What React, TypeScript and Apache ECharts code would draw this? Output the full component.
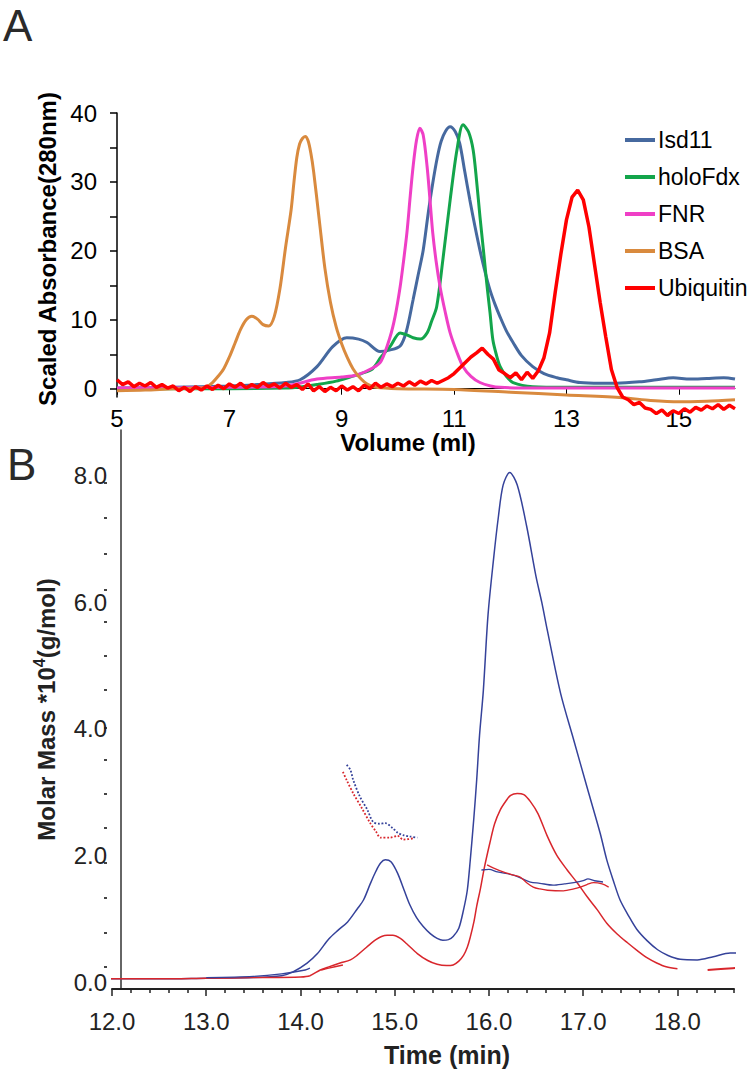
import React, { useEffect, useRef } from "react";
import * as echarts from "echarts";

// ---------- Panel A data (Volume ml -> Scaled Absorbance 280nm) ----------
const isdVol = [5, 6, 7, 7.5, 8, 8.26, 8.56, 8.84, 9.09, 9.3, 9.45, 9.68, 9.85, 10.04, 10.15, 10.27, 10.36, 10.45, 10.54, 10.62, 10.7, 10.77, 10.85, 10.93, 11.02, 11.1, 11.19, 11.28, 11.37, 11.46, 11.55, 11.64, 11.73, 11.82, 11.93, 12.05, 12.2, 12.4, 12.6, 12.83, 13.0, 13.24, 13.6, 13.9, 14.3, 14.6, 14.9, 15.2, 15.5, 15.8, 16.0];
const isdAbs = [0.1, 0.2, 0.4, 0.6, 0.9, 1.3, 3.2, 6.1, 7.4, 7.2, 6.7, 5.4, 5.6, 6.2, 8.3, 12.9, 16.5, 20.1, 25.5, 29.8, 33.5, 35.9, 37.4, 38.0, 37.3, 35.6, 31.5, 27.4, 23.6, 20.1, 17.0, 14.3, 12.2, 10.4, 8.4, 6.7, 4.8, 3.2, 2.2, 1.6, 1.3, 0.9, 0.8, 0.8, 1.0, 1.3, 1.6, 1.4, 1.5, 1.6, 1.4];

const fdxVol = [5, 7, 8, 8.3, 8.56, 8.9, 9.15, 9.35, 9.55, 9.7, 9.86, 10.04, 10.16, 10.27, 10.4, 10.52, 10.6, 10.69, 10.8, 10.93, 11.05, 11.16, 11.26, 11.34, 11.4, 11.46, 11.52, 11.58, 11.64, 11.69, 11.75, 11.82, 11.93, 12.05, 12.4, 13, 14, 15, 16];
const fdxAbs = [0.0, 0.0, 0.1, 0.3, 0.6, 1.1, 1.7, 2.2, 2.9, 4.6, 6.1, 8.1, 7.8, 7.4, 7.2, 8.1, 9.8, 11.9, 18.7, 27.4, 34.6, 38.3, 37.2, 34.6, 30.2, 25.0, 20.3, 15.4, 11.0, 7.1, 5.0, 3.2, 1.8, 0.9, 0.3, 0.2, 0.2, 0.2, 0.2];

const fnrVol = [5, 7, 8, 8.56, 9.0, 9.27, 9.55, 9.7, 9.86, 9.95, 10.04, 10.1, 10.16, 10.22, 10.27, 10.33, 10.39, 10.45, 10.52, 10.57, 10.62, 10.68, 10.75, 10.84, 10.93, 11.05, 11.16, 11.3, 11.46, 11.65, 11.82, 12.5, 13, 14, 15, 16];
const fnrAbs = [0.1, 0.2, 0.4, 1.4, 1.7, 2.0, 3.0, 4.0, 7.5, 10.5, 14.8, 18.5, 22.6, 28.0, 32.2, 36.0, 37.8, 36.8, 32.2, 27.5, 22.6, 18.5, 14.8, 11.2, 8.1, 5.3, 3.2, 1.8, 0.9, 0.4, 0.2, 0.1, 0.1, 0.1, 0.1, 0.1];

const bsaVol = [5, 5.5, 6, 6.3, 6.5, 6.6, 6.7, 6.8, 6.9, 7.0, 7.1, 7.2, 7.3, 7.4, 7.5, 7.6, 7.7, 7.8, 7.9, 8.0, 8.1, 8.15, 8.2, 8.25, 8.3, 8.35, 8.4, 8.45, 8.5, 8.6, 8.7, 8.8, 8.9, 9.0, 9.1, 9.2, 9.3, 9.4, 9.5, 9.6, 10, 11, 12, 13, 14, 14.5, 15, 15.5, 16];
const bsaAbs = [-0.3, -0.2, 0.0, 0.05, 0.1, 0.3, 0.9, 1.8, 2.9, 4.6, 6.6, 8.6, 10.0, 10.5, 10.1, 9.3, 9.1, 10.5, 14.5, 20.5, 26.0, 30.0, 33.5, 35.5, 36.3, 36.6, 36.0, 34.2, 31.5, 24.5, 17.5, 12.5, 9.0, 6.5, 4.5, 2.9, 1.8, 1.0, 0.5, 0.2, 0.0, -0.1, -0.5, -0.9, -1.3, -1.7, -1.9, -1.8, -1.6];

const ubqVol = [5.0, 5.1, 5.2, 5.3, 5.4, 5.5, 5.6, 5.7, 5.8, 5.9, 6.0, 6.1, 6.2, 6.3, 6.4, 6.5, 6.6, 6.7, 6.8, 6.9, 7.0, 7.1, 7.2, 7.3, 7.4, 7.5, 7.6, 7.7, 7.8, 7.9, 8.0, 8.1, 8.2, 8.3, 8.4, 8.5, 8.6, 8.7, 8.8, 8.9, 9.0, 9.1, 9.2, 9.3, 9.4, 9.5, 9.6, 9.7, 9.8, 9.9, 10.0, 10.1, 10.2, 10.3, 10.4, 10.5, 10.6, 10.7, 10.8, 10.9, 11.0, 11.1, 11.2, 11.3, 11.4, 11.5, 11.6, 11.7, 11.8, 11.9, 12.0, 12.1, 12.2, 12.3, 12.4, 12.5, 12.6, 12.7, 12.8, 12.9, 13.0, 13.1, 13.2, 13.3, 13.4, 13.5, 13.6, 13.7, 13.8, 13.9, 14.0, 14.1, 14.2, 14.3, 14.4, 14.5, 14.6, 14.7, 14.8, 14.9, 15.0, 15.1, 15.2, 15.3, 15.4, 15.5, 15.6, 15.7, 15.8, 15.9, 16.0];
const ubqAbs = [1.3, 0.6, 1.0, 0.3, 0.8, 0.4, 0.9, 0.2, 0.6, 0.1, 0.4, -0.3, 0.2, -0.4, 0.3, -0.2, 0.4, -0.1, 0.5, 0.0, 0.7, 0.2, 0.8, 0.1, 0.6, 0.2, 0.9, 0.3, 0.7, 0.1, 0.8, 0.2, 0.6, -0.1, 0.7, -0.3, 0.3, -0.4, 0.2, -0.3, 0.4, -0.2, 0.3, -0.3, 0.5, 0.0, 0.8, 0.2, 0.7, 0.3, 0.8, 0.4, 1.0, 0.5, 1.1, 0.7, 1.2, 0.8, 1.2, 1.6, 2.2, 3.0, 3.8, 4.6, 5.2, 5.9, 5.0, 4.3, 2.7, 2.2, 1.6, 2.3, 1.3, 2.4, 1.5, 2.6, 4.5, 8.1, 14.0, 19.5, 24.5, 27.8, 28.8, 27.4, 23.5, 18.0, 12.5, 7.5, 2.8, 0.2, -1.2, -1.6, -2.3, -2.0, -2.8, -3.0, -3.6, -3.1, -3.9, -3.2, -3.6, -2.9, -3.4, -2.7, -3.1, -2.5, -2.9, -2.3, -3.0, -2.4, -2.9];

const volTicks = [5, 7, 9, 11, 13, 15];
const absTicks = [0, 5, 10, 15, 20, 25, 30, 35, 40];
const absLabels = [0, 10, 20, 30, 40];

// ---------- Panel B data (Time min -> Molar Mass *10^4 g/mol) ----------
const blueTime = [11.96, 12.5, 13.0, 13.5, 13.8, 13.92, 14.07, 14.18, 14.3, 14.4, 14.5, 14.6, 14.67, 14.74, 14.8, 14.85, 14.9, 14.96, 15.03, 15.1, 15.16, 15.23, 15.3, 15.38, 15.45, 15.51, 15.57, 15.62, 15.68, 15.73, 15.77, 15.8, 15.84, 15.87, 15.9, 15.94, 15.99, 16.05, 16.1, 16.15, 16.22, 16.3, 16.4, 16.5, 16.56, 16.62, 16.76, 16.9, 17.04, 17.18, 17.25, 17.32, 17.39, 17.48, 17.57, 17.68, 17.79, 17.9, 18.03, 18.21, 18.38, 18.56, 18.78];
const blueMass = [0.05, 0.05, 0.06, 0.07, 0.1, 0.16, 0.3, 0.45, 0.68, 0.82, 0.95, 1.15, 1.3, 1.55, 1.75, 1.88, 1.93, 1.9, 1.72, 1.45, 1.22, 1.02, 0.88, 0.76, 0.69, 0.66, 0.67, 0.72, 0.85, 1.14, 1.45, 1.9, 2.6, 3.2, 3.9, 4.6, 5.8, 6.7, 7.35, 7.85, 8.05, 7.85, 7.2, 6.4, 6.0, 5.55, 4.56, 3.82, 3.08, 2.35, 1.93, 1.6, 1.3, 1.05, 0.83, 0.65, 0.51, 0.42, 0.36, 0.35, 0.4, 0.46, 0.46];

const redTime = [11.96, 12.5, 13.0, 13.5, 14.0, 14.1, 14.21, 14.3, 14.42, 14.53, 14.6, 14.67, 14.74, 14.8, 14.86, 14.92, 14.98, 15.06, 15.13, 15.24, 15.35, 15.45, 15.55, 15.62, 15.68, 15.73, 15.77, 15.8, 15.84, 15.87, 15.91, 15.95, 16.01, 16.06, 16.12, 16.18, 16.23, 16.3, 16.37, 16.44, 16.52, 16.62, 16.72, 16.83, 16.94, 17.04, 17.15, 17.25, 17.36, 17.47, 17.57, 17.68, 17.78, 17.88, 18.0];
const redMass = [0.05, 0.05, 0.06, 0.07, 0.08, 0.1, 0.19, 0.24, 0.3, 0.35, 0.42, 0.51, 0.6, 0.67, 0.72, 0.74, 0.74, 0.69, 0.6, 0.45, 0.34, 0.28, 0.26, 0.27, 0.33, 0.42, 0.55, 0.7, 0.95, 1.2, 1.48, 1.8, 2.2, 2.5, 2.72, 2.86, 2.95, 2.98, 2.96, 2.85, 2.66, 2.3, 2.0, 1.77, 1.56, 1.35, 1.14, 0.93, 0.76, 0.62, 0.5, 0.38, 0.3, 0.24, 0.21];

// molar-mass fragments
const blueFragA_t = [14.49, 14.53, 14.56, 14.63, 14.71, 14.77, 14.84, 14.9, 14.98, 15.03, 15.09, 15.16, 15.24];
const blueFragA_m = [3.43, 3.35, 3.19, 2.93, 2.72, 2.53, 2.5, 2.51, 2.43, 2.36, 2.32, 2.3, 2.28];
const redFragA_t = [14.45, 14.49, 14.56, 14.65, 14.74, 14.8, 14.85, 14.95, 15.03, 15.09, 15.2];
const redFragA_m = [3.32, 3.19, 2.98, 2.75, 2.51, 2.38, 2.28, 2.28, 2.31, 2.25, 2.27];

const blueFragB_t = [15.92, 16.0, 16.09, 16.26, 16.44, 16.54, 16.68, 16.8, 16.9, 17.0, 17.05, 17.12, 17.21];
const blueFragB_m = [1.77, 1.78, 1.74, 1.69, 1.58, 1.56, 1.53, 1.55, 1.57, 1.6, 1.63, 1.6, 1.58];
const redFragB_t = [15.98, 16.05, 16.15, 16.26, 16.33, 16.4, 16.47, 16.54, 16.62, 16.79, 16.9, 16.97, 17.04, 17.11, 17.2, 17.27];
const redFragB_m = [1.85, 1.8, 1.74, 1.69, 1.66, 1.57, 1.5, 1.47, 1.45, 1.44, 1.47, 1.5, 1.54, 1.57, 1.55, 1.5];

const blueFragC_t = [13.0, 13.5, 13.8, 14.05, 14.1];
const blueFragC_m = [0.07, 0.09, 0.13, 0.19, 0.22];
const redFragC_t = [14.22, 14.3, 14.45];
const redFragC_m = [0.19, 0.22, 0.27];
const redFragD_t = [18.32, 18.5, 18.7];
const redFragD_m = [0.19, 0.21, 0.23];

const timeTicks = [12, 13, 14, 15, 16, 17, 18];
const timeMinor = Array.from({ length: 34 }, (_, i) => +(12 + i * 0.2).toFixed(1)).filter((v) => Math.abs(v - Math.round(v)) > 0.01);
const massLabels = [0, 2, 4, 6, 8];
const massDots = [0.24, 0.78, 1.33, 1.88, 2.43, 2.97, 3.51, 4.01, 4.61, 5.15, 5.69, 6.19, 6.77, 7.33, 7.88];

const FONT = "'Liberation Sans', Arial, Helvetica, sans-serif";

function zip(xs: number[], ys: number[]) {
  return xs.map((x, i) => [x, ys[i]]);
}

function lineA(name: string, xs: number[], ys: number[], color: string, width: number, smooth: number | boolean) {
  return {
    type: "line",
    name,
    xAxisIndex: 0,
    yAxisIndex: 0,
    data: zip(xs, ys),
    showSymbol: false,
    symbol: "none",
    smooth,
    clip: false,
    itemStyle: { color },
    lineStyle: { color, width },
  };
}

function lineB(xs: number[], ys: number[], color: string, width: number, type: string = "solid") {
  return {
    type: "line",
    xAxisIndex: 1,
    yAxisIndex: 1,
    data: zip(xs, ys),
    showSymbol: false,
    symbol: "none",
    smooth: 0.3,
    clip: false,
    itemStyle: { color },
    lineStyle: { color, width, type },
  };
}

const BLUE_B = "#35429a";
const RED_B = "#d8262c";

export default function App() {
  const ref = useRef<HTMLDivElement>(null);
  useEffect(() => {
    const chart = echarts.init(ref.current!, null, { renderer: "svg" });
    const option: any = {
      animation: false,
      backgroundColor: "#fff",
      textStyle: { fontFamily: FONT },
      graphic: [
        { type: "text", left: 3, top: 3, style: { text: "A", font: `44px ${FONT}`, fill: "#2a2a2a" } },
        { type: "text", left: 7, top: 442, style: { text: "B", font: `44px ${FONT}`, fill: "#2a2a2a" } },
      ],
      legend: {
        data: ["Isd11", "holoFdx", "FNR", "BSA", "Ubiquitin"],
        orient: "vertical",
        left: 620,
        top: 123,
        icon: "rect",
        itemWidth: 30,
        itemHeight: 4,
        itemGap: 13,
        textStyle: { fontSize: 23, color: "#000", fontFamily: FONT, lineHeight: 24, padding: [0, 0, 0, -2] },
      },
      grid: [
        { left: 117, right: 16, top: 113, bottom: 675 },
        { left: 112, right: 17, top: 430, bottom: 83 },
      ],
      xAxis: [
        {
          gridIndex: 0,
          type: "value",
          min: 5,
          max: 16,
          axisLine: { onZero: true, lineStyle: { color: "#000", width: 1 } },
          axisTick: { show: true, customValues: volTicks, length: 6, lineStyle: { color: "#000", width: 1 } },
          axisLabel: { customValues: volTicks, fontSize: 24, color: "#000", margin: 9, fontFamily: FONT },
          splitLine: { show: false },
          name: "Volume (ml)",
          nameLocation: "middle",
          nameGap: 32,
          nameTextStyle: { fontSize: 24, fontWeight: "bold", color: "#000", fontFamily: FONT, padding: [0, 36, 0, 0] },
        },
        {
          gridIndex: 1,
          type: "value",
          min: 12,
          max: 18.6,
          axisLine: { onZero: false, lineStyle: { color: "#222", width: 2 } },
          axisTick: { show: true, customValues: timeTicks, length: 7, lineStyle: { color: "#222", width: 1.5 } },
          axisLabel: { customValues: timeTicks, fontSize: 24, color: "#222", margin: 20, fontFamily: FONT, formatter: (v: number) => v.toFixed(1) },
          splitLine: { show: false },
          name: "Time (min)",
          nameLocation: "middle",
          nameGap: 53,
          nameTextStyle: { fontSize: 25, fontWeight: "bold", color: "#222", fontFamily: FONT, padding: [0, 0, 0, 48] },
        },
        {
          gridIndex: 1,
          type: "value",
          min: 12,
          max: 18.6,
          position: "bottom",
          axisLine: { show: false, onZero: false },
          axisTick: { show: true, customValues: timeMinor, length: 4, lineStyle: { color: "#222", width: 1.5 } },
          axisLabel: { show: false },
          splitLine: { show: false },
        },
      ],
      yAxis: [
        {
          gridIndex: 0,
          type: "value",
          min: -1.2,
          max: 40,
          axisLine: { show: true, onZero: false, lineStyle: { color: "#000", width: 1.5 } },
          axisTick: { show: true, customValues: absTicks, length: 7, lineStyle: { color: "#000", width: 1.5 } },
          axisLabel: { customValues: absLabels, fontSize: 24, color: "#000", margin: 20, fontFamily: FONT },
          splitLine: { show: false },
          name: "Scaled Absorbance(280nm)",
          nameLocation: "middle",
          nameGap: 52,
          nameTextStyle: { fontSize: 24, fontWeight: "bold", color: "#000", fontFamily: FONT, padding: [0, 0, 0, 12] },
        },
        {
          gridIndex: 1,
          type: "value",
          min: -0.11,
          max: 8.72,
          offset: -9,
          axisLine: { show: true, onZero: false, lineStyle: { color: "#333", width: 1.5 } },
          axisTick: { show: false },
          axisLabel: { customValues: massLabels, fontSize: 24, color: "#222", margin: 14, fontFamily: FONT, formatter: (v: number) => v.toFixed(1) },
          splitLine: { show: false },
          name: "{b|Molar Mass *10}{s|4}{b|(g/mol)}",
          nameLocation: "middle",
          nameGap: 60,
          nameTextStyle: {
            rich: {
              b: { fontSize: 24, fontWeight: "bold", color: "#222", fontFamily: FONT, lineHeight: 30 },
              s: { fontSize: 16, fontWeight: "bold", color: "#222", fontFamily: FONT, verticalAlign: "top", lineHeight: 30 },
            },
          },
        },
        {
          gridIndex: 1,
          type: "value",
          min: -0.11,
          max: 8.72,
          position: "left",
          offset: 5,
          axisLine: { show: false, onZero: false },
          axisTick: { show: true, customValues: massDots, length: 3, lineStyle: { color: "#444", width: 2 } },
          axisLabel: { show: false },
          splitLine: { show: false },
        },
      ],
      series: [
        lineA("Isd11", isdVol, isdAbs, "#46699f", 3, 0.3),
        lineA("holoFdx", fdxVol, fdxAbs, "#13a54b", 3, 0.3),
        lineA("FNR", fnrVol, fnrAbs, "#ef3fc6", 3, 0.3),
        lineA("BSA", bsaVol, bsaAbs, "#d98a3e", 3, 0.3),
        lineA("Ubiquitin", ubqVol, ubqAbs, "#ff0000", 3.5, false),
        lineB(blueTime, blueMass, BLUE_B, 1.5),
        lineB(redTime, redMass, RED_B, 1.5),
        lineB(blueFragA_t, blueFragA_m, BLUE_B, 1.8, "dotted"),
        lineB(redFragA_t, redFragA_m, RED_B, 1.8, "dotted"),
        lineB(blueFragB_t, blueFragB_m, BLUE_B, 1.3),
        lineB(redFragB_t, redFragB_m, RED_B, 1.3),
        lineB(blueFragC_t, blueFragC_m, BLUE_B, 1.3),
        lineB(redFragC_t, redFragC_m, RED_B, 1.5),
        lineB(redFragD_t, redFragD_m, RED_B, 2),
      ],
    };
    chart.setOption(option);
    return () => chart.dispose();
  }, []);
  return <div ref={ref} style={{ position: "fixed", left: 0, top: 0, width: 751, height: 1072, background: "#fff" }} />;
}
